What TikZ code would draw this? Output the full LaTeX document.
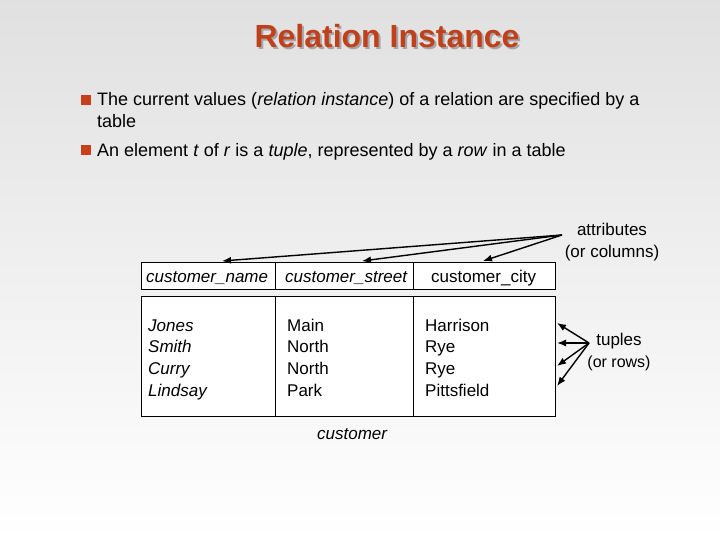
\documentclass[tikz,border=0pt]{standalone}
\usepackage{fontspec}
\setmainfont{Liberation Sans}
\usetikzlibrary{arrows.meta}
\definecolor{ttl}{HTML}{C0401C}
\definecolor{bul}{HTML}{C8401A}
\tikzset{
  txt/.style={inner sep=0pt,anchor=base west,font=\fontsize{18}{21}\selectfont},
  cell/.style={inner sep=0pt,anchor=base west,font=\fontsize{17}{21}\selectfont},
  arr/.style={-{Latex[length=9pt,width=7pt]},line width=1.4pt},
  bx/.style={draw,line width=0.8pt,fill=white},
  bulsq/.style={fill=bul,minimum size=9.5pt,inner sep=0pt}
}
\begin{document}
\begin{tikzpicture}[x=1pt,y=-1pt]
\shade[top color=black!12,bottom color=white] (0,0) rectangle (720,540);
\useasboundingbox (0,0) rectangle (720,540);
\node[font=\bfseries\fontsize{32}{36}\selectfont,text=black!35] at (389,38) {Relation Instance};
\node (title) [font=\bfseries\fontsize{32}{36}\selectfont,text=ttl] at (387,36) {Relation Instance};
\node (b1) [bulsq] at (86,100) {};
\node (t1) [txt] at (97,106) {The current values (\textit{relation instance}) of a relation are specified by a};
\node (t1b) [txt] at (97,128) {table};
\node (b2) [bulsq] at (86,150) {};
\node (t2) [txt] at (97,157) {An element \textit{t} of \textit{r} is a \textit{tuple}, represented by a \textit{row} in a table};
% table
\draw[bx] (141,262) rectangle (555,289);
\draw[bx] (141,296) rectangle (555,416);
\draw[line width=0.8pt] (275,262) -- (275,289) (413,262) -- (413,289);
\draw[line width=0.8pt] (275,296) -- (275,416) (413,296) -- (413,416);
\node (h1) [cell] at (146,282) {\textit{customer\_name}};
\node (h2) [cell] at (285,282) {\textit{customer\_street}};
\node (h3) [cell] at (431,282) {customer\_city};
\coordinate (a1) at (222,261);
\coordinate (a2) at (362,261);
\coordinate (a3) at (483,261);
\foreach \n/\s/\c [count=\i] in {Jones/Main/Harrison, Smith/North/Rye, Curry/North/Rye, Lindsay/Park/Pittsfield} {
  \node (n\i) [cell,font=\itshape\fontsize{17}{21}\selectfont] at (148,{331+21.7*(\i-1)}) {\n};
  \node (s\i) [cell] at (287,{331+21.7*(\i-1)}) {\s};
  \node (y\i) [cell] at (425,{331+21.7*(\i-1)}) {\c};
}
\node (cap) [cell,font=\itshape\fontsize{17}{21}\selectfont] at (317,439) {customer};
\node (attr) [align=center,font=\fontsize{17}{22}\selectfont,inner sep=0pt] at (612,242) {attributes\\(or columns)};
\coordinate (as) at (562,235);
\draw[arr] (as) -- (a1);
\draw[arr] (as) -- (a2);
\draw[arr] (as) -- (a3);
\node (tup) [align=center,font=\fontsize{17}{22}\selectfont,inner sep=0pt] at (619,352) {tuples\\{\fontsize{16}{20}\selectfont(or rows)}};
\coordinate (ts) at (589,343);
\coordinate (r1) at (557,323);
\coordinate (r2) at (557,343);
\coordinate (r3) at (557,366);
\coordinate (r4) at (557,386);
\foreach \r in {r1,r2,r3,r4} \draw[arr] (ts) -- (\r);
\end{tikzpicture}
\end{document}
